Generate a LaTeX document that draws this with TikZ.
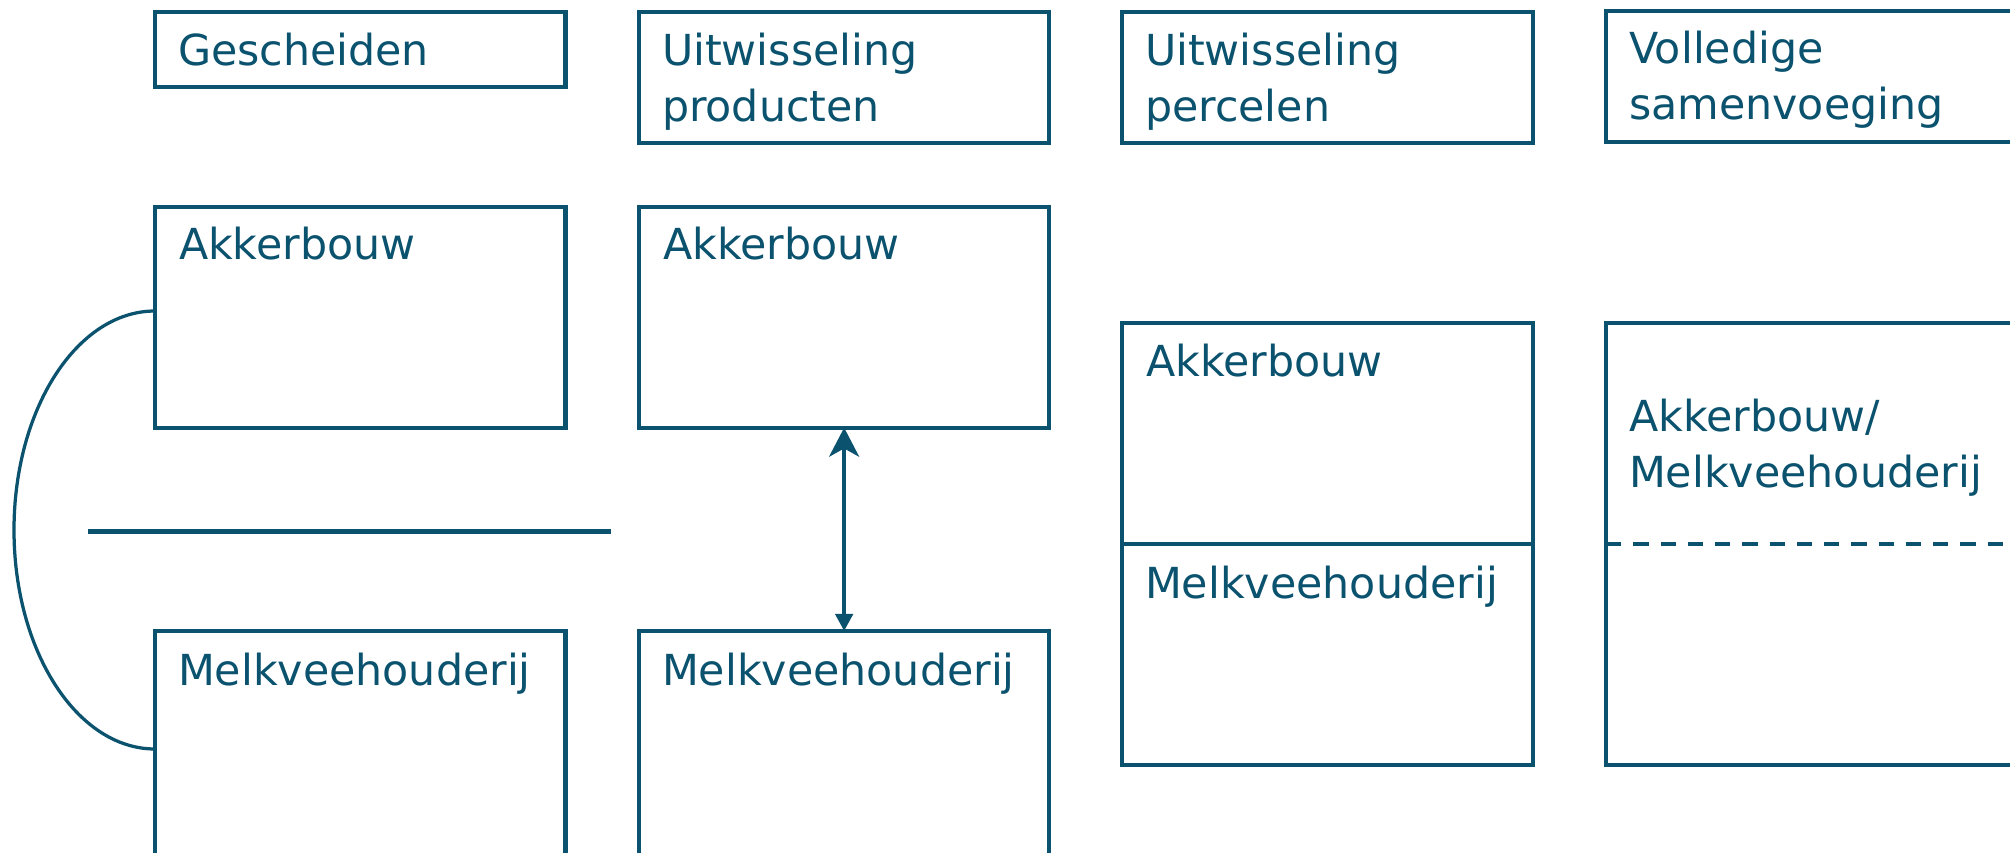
\documentclass[tikz,border=0pt]{standalone}
\usepackage{fontspec}
\setmainfont{DejaVu Sans}
\usetikzlibrary{arrows.meta}
\definecolor{dteal}{RGB}{10,82,110}
\newcommand\twol[2]{\vtop{\baselineskip=22.4pt\hbox{#1}\hbox{#2}}}
\begin{document}
\begin{tikzpicture}[x=0.4pt,y=-0.4pt,
  box/.style={draw=dteal,line width=1.7pt,rectangle,inner sep=0pt,outer sep=0pt,anchor=north west},
  lbl/.style={anchor=base west,inner sep=0pt,outer sep=0pt,text=dteal,font=\fontsize{17.1}{22.4}\selectfont},
  conn/.style={draw=dteal,line width=1.5pt}]
\useasboundingbox (0,0) rectangle (2010,852);
\clip (0,0) rectangle (2010,852);
% top row
\node[box,minimum width=164.2pt,minimum height=30.1pt] (g) at (155,12) {};
\node[box,minimum width=164.1pt,minimum height=52.5pt] (up) at (639,12) {};
\node[box,minimum width=164.4pt,minimum height=52.5pt] (upc) at (1122,12) {};
\node[box,minimum width=170pt,minimum height=52.5pt] (vs) at (1606,11) {};
% second row
\node[box,minimum width=164.2pt,minimum height=88.4pt] (a1) at (155,206.7) {};
\node[box,minimum width=164.1pt,minimum height=88.4pt] (a2) at (639,206.7) {};
\node[box,minimum width=164.2pt,minimum height=100pt] (m1) at (155,631) {};
\node[box,minimum width=164.1pt,minimum height=100pt] (m2) at (639,631) {};
\node[box,minimum width=164.4pt,minimum height=176.9pt] (c3) at (1122,322.7) {};
\node[box,minimum width=170pt,minimum height=176.9pt] (c4) at (1606,322.7) {};
% dividers
\draw[draw=dteal,line width=1.7pt] (c3.west) -- (c3.east);
\draw[draw=dteal,line width=1.6pt,dash pattern=on 6.1pt off 4.8pt] (c4.west) -- (c4.east);
% horizontal separator
\coordinate (hl) at (88,531.5);
\coordinate (hr) at (611,531.5);
\draw[draw=dteal,line width=2.3pt] (hl) -- (hr);
% arc linking the two farms
\coordinate (arcT) at (155,311);
\coordinate (arcB) at (155,749);
\draw[draw=dteal,line width=1.3pt] (arcT) .. controls (77,311) and (14,409) .. (14,530)
  .. controls (14,651) and (77,749) .. (arcB);
% exchange arrow
\draw[conn,{Stealth[length=11.6pt,width=12pt,inset=3.3pt]}-{Triangle[length=6.9pt,width=7pt]}] (a2.south) -- (m2.north);
% labels
\node[lbl] (tg) at (178,65.8) {Gescheiden};
\node[lbl] (tup) at (662,65.7) {\twol{Uitwisseling}{producten}};
\node[lbl] (tupc) at (1145,65.7) {\twol{Uitwisseling}{percelen}};
\node[lbl] (tvs) at (1629,64) {\twol{Volledige}{samenvoeging}};
\node[lbl] (ta1) at (179,260) {Akkerbouw};
\node[lbl] (ta2) at (663,260) {Akkerbouw};
\node[lbl] (tm1) at (178,685) {Melkveehouderij};
\node[lbl] (tm2) at (662,685) {Melkveehouderij};
\node[lbl] (tc3a) at (1146,376.7) {Akkerbouw};
\node[lbl] (tc3m) at (1145,598.3) {Melkveehouderij};
\node[lbl] (tc4) at (1629,431.5) {\twol{Akkerbouw/}{Melkveehouderij}};
\end{tikzpicture}
\end{document}
